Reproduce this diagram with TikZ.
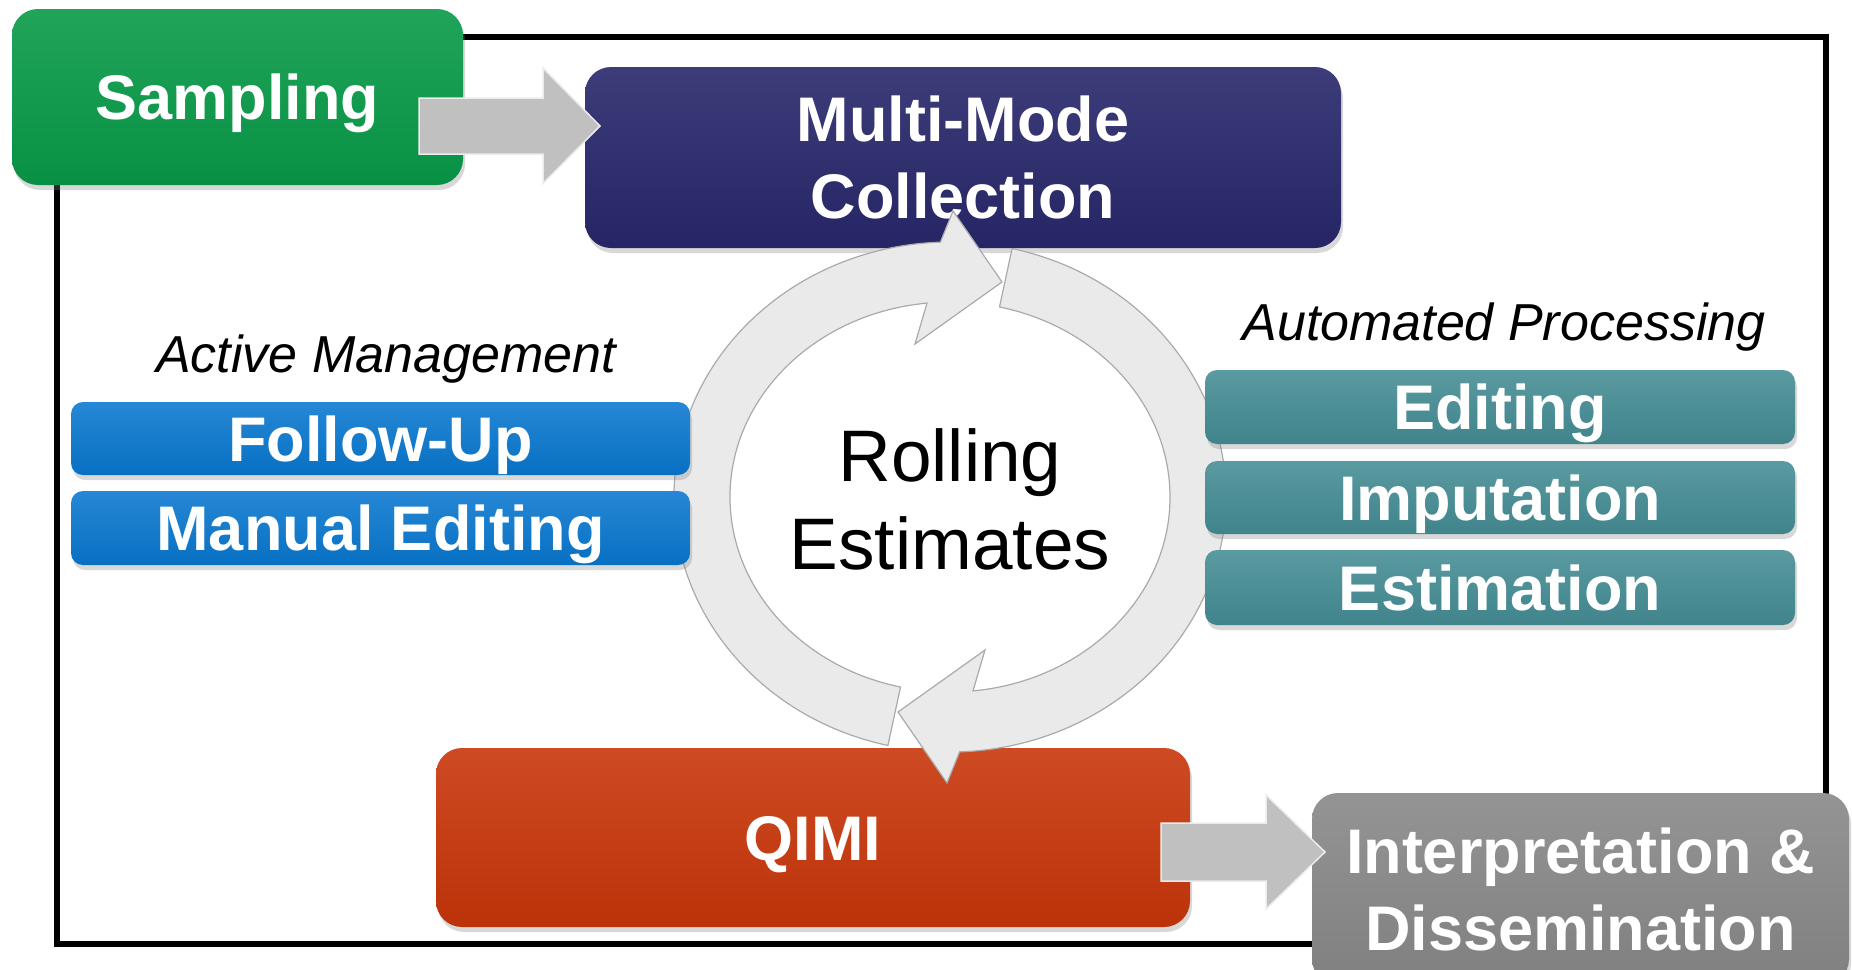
\documentclass[tikz,border=0pt]{standalone}
\usepackage{fontspec}
\setmainfont{Liberation Sans}
\usetikzlibrary{shadows}
\definecolor{cgreen}{RGB}{8,154,72}
\definecolor{cnavy}{RGB}{40,39,107}
\definecolor{cblue}{RGB}{8,119,207}
\definecolor{cteal}{RGB}{68,140,148}
\definecolor{corange}{RGB}{200,54,10}
\definecolor{cgraybox}{RGB}{136,136,136}
\definecolor{carrow}{RGB}{192,192,192}
\definecolor{carrowline}{RGB}{236,236,236}
\definecolor{cring}{RGB}{234,234,234}
\definecolor{cringline}{RGB}{170,170,170}
\begin{document}
\begin{tikzpicture}[x=1pt,y=-1pt,
  boxbase/.style={rectangle, inner sep=0pt, text=white,
    font=\fontsize{63}{77}\selectfont\bfseries, align=center,
    drop shadow={shadow xshift=2pt, shadow yshift=-5pt, opacity=0.3}},
  bigbox/.style={boxbase, rounded corners=26pt,
    top color=#1!90!white, middle color=#1, bottom color=#1!94!black},
  thinbox/.style={boxbase, rounded corners=12pt, text height=45pt, text depth=0pt,
    top color=#1!88!white, middle color=#1, bottom color=#1!94!black},
  onebox/.style={text height=45pt, text depth=0pt},
  blockarrow/.style={fill=carrow, draw=carrowline, line width=1.5pt, line join=miter},
  ringarrow/.style={fill=cring, draw=cringline, line width=1.2pt, line join=miter},
  captiontext/.style={anchor=base, font=\fontsize{52}{60}\selectfont\itshape, inner sep=0pt}
]
\useasboundingbox (0,0) rectangle (1852,969);
\clip (0,0) rectangle (1852,969);
\fill[white] (0,0) rectangle (1852,969);

% frame
\draw[line width=6pt] (57,37) rectangle (1826,944);

% boxes under the ring
\node[bigbox=cnavy, minimum width=756pt, minimum height=181pt] (mm) at (963,157.5) {Multi-Mode\\Collection};
\node[bigbox=corange, onebox, minimum width=754pt, minimum height=179pt] (qimi) at (813,837.5) {QIMI};
\node[bigbox=cgraybox, minimum width=537pt, minimum height=192pt] (interp) at (1580.5,889) {Interpretation \&\\Dissemination};

% ring of arrows
\draw[ringarrow] (950,497) ++(103:276 and 255)
  arc[start angle=103, end angle=268, x radius=276, y radius=255]
  -- (953,211) -- (1002,282) -- (915,344) -- (927,303.1)
  arc[start angle=264, end angle=103, x radius=220, y radius=195] -- cycle;
\begin{scope}[rotate around={180:(950,497)}]
\draw[ringarrow] (950,497) ++(103:276 and 255)
  arc[start angle=103, end angle=268, x radius=276, y radius=255]
  -- (953,211) -- (1002,282) -- (915,344) -- (927,303.1)
  arc[start angle=264, end angle=103, x radius=220, y radius=195] -- cycle;
\end{scope}

\node[align=center, inner sep=0pt, font=\fontsize{73}{88}\selectfont] (roll) at (950,499.5) {Rolling\\Estimates};

% side boxes
\node[thinbox=cblue, minimum width=619pt, minimum height=73pt] (fu) at (380.5,438.5) {Follow-Up};
\node[thinbox=cblue, minimum width=619pt, minimum height=74pt] (me) at (380.5,528) {Manual Editing};
\node[thinbox=cteal, minimum width=590pt, minimum height=74pt] (ed) at (1500,407) {Editing};
\node[thinbox=cteal, minimum width=590pt, minimum height=73pt] (imp) at (1500,497.5) {Imputation};
\node[thinbox=cteal, minimum width=590pt, minimum height=75pt] (est) at (1500,587.5) {Estimation};

\node[captiontext] (am) at (386,372) {Active Management};
\node[captiontext] (ap) at (1504,340) {Automated Processing};

% sampling
\node[bigbox=cgreen, onebox, minimum width=451pt, minimum height=176pt] (samp) at (237.5,97) {Sampling};

% block arrows
\coordinate (a1tail) at (419,126);
\coordinate (a1tip) at (600,126);
\draw[blockarrow] (a1tail) ++(0,-28) -- ++(124,0) -- ++(0,-30) -- (a1tip)
  -- ++(-57,57.5) -- ++(0,-29.5) -- ++(-124,0) -- cycle;
\coordinate (a2tail) at (1161,852);
\coordinate (a2tip) at (1325,852);
\draw[blockarrow] (a2tail) ++(0,-29) -- ++(105,0) -- ++(0,-28) -- (a2tip)
  -- ++(-59,57) -- ++(0,-28) -- ++(-105,0) -- cycle;
\end{tikzpicture}
\end{document}
